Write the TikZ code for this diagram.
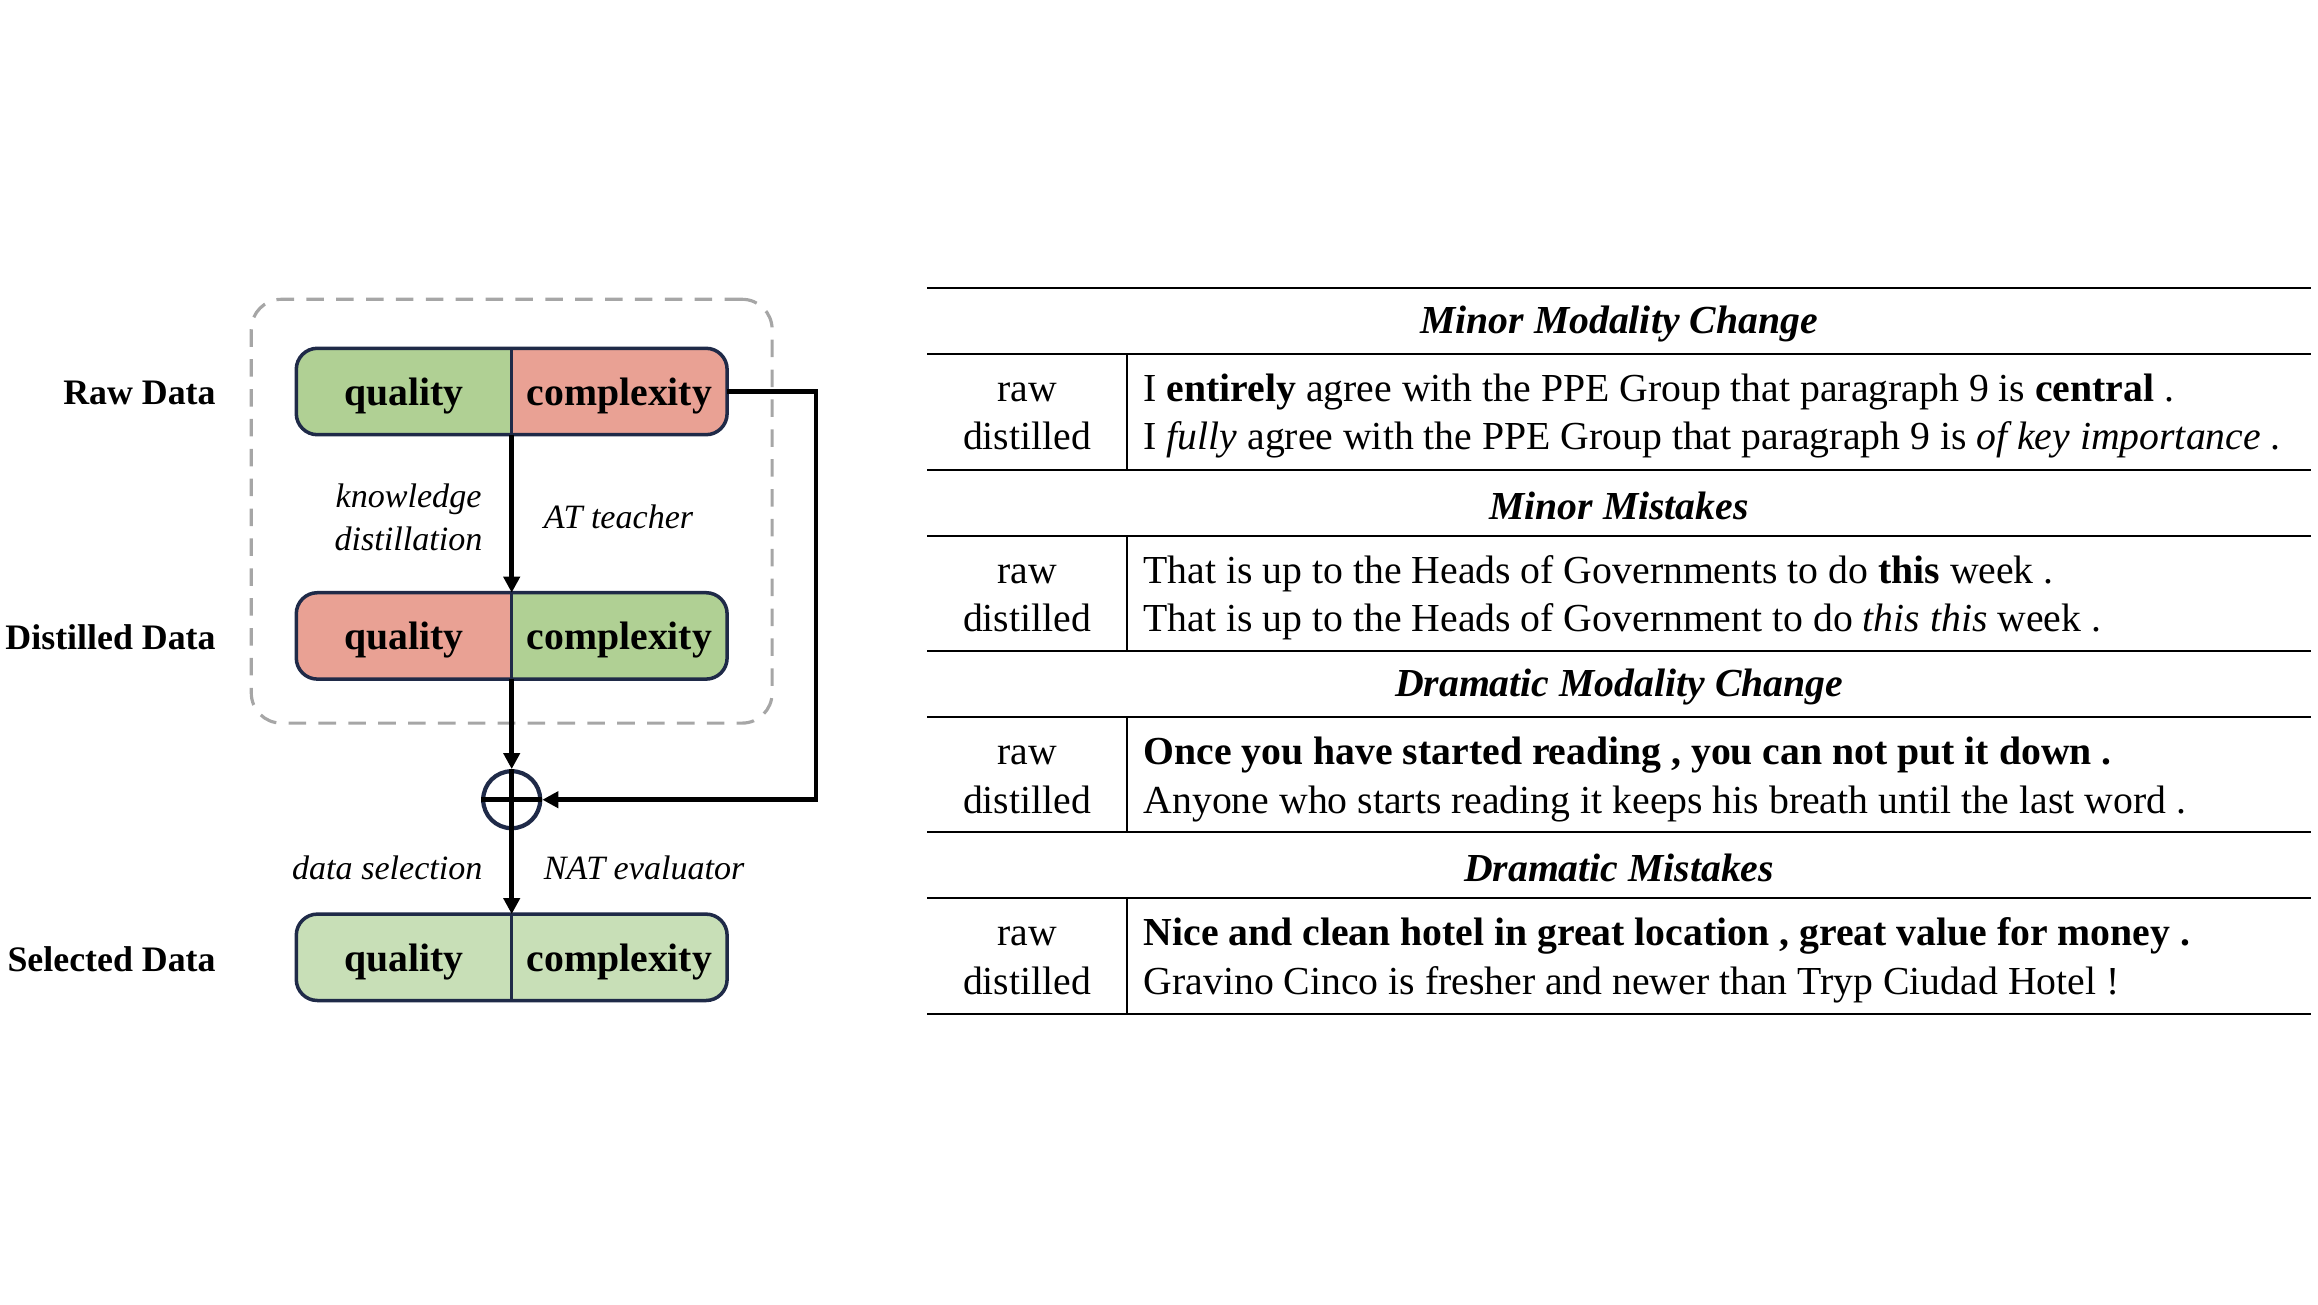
\documentclass[tikz,border=0pt]{standalone}
\usepackage{fontspec}
\setmainfont{Liberation Serif}
\usetikzlibrary{arrows.meta, positioning, fit, backgrounds}
\definecolor{cGood}{RGB}{176,208,148}
\definecolor{cBad}{RGB}{233,161,148}
\definecolor{cPale}{RGB}{200,223,183}
\definecolor{cNavy}{RGB}{31,42,72}
\definecolor{cDash}{RGB}{166,166,166}
\tikzset{
	half/.style    ={rectangle, minimum width=2.14cm, minimum height=0.85cm, inner sep=0pt, text height=0.278cm, text depth=0pt, font=\fontsize{11.3}{13}\selectfont\bfseries},
	rowname/.style ={inner sep=0pt, font=\fontsize{10.2}{12}\selectfont\bfseries},
	lab/.style     ={inner sep=0pt, align=center, font=\fontsize{9.7}{12.2}\selectfont\itshape},
	outline/.style ={draw=cNavy, line width=1pt, rounded corners=6pt},
	divider/.style ={draw=cNavy, line width=0.8pt},
	kdbox/.style   ={draw=cDash, line width=0.9pt, dash pattern=on 5pt off 3.5pt, rounded corners=0.3cm, inner xsep=0.45cm, inner ysep=0.465cm},
	sumj/.style    ={circle, draw=cNavy, line width=1.2pt, minimum size=0.57cm, inner sep=0pt},
	sig/.style     ={-{Triangle[length=1.6mm, width=1.6mm]}, line width=1.3pt},
	% table
	cell/.style    ={inner sep=0pt, font=\fontsize{11.3}{13.6}\selectfont},
	head/.style    ={inner sep=0pt, font=\fontsize{11.3}{13.6}\selectfont\bfseries\itshape},
	hrule/.style   ={line width=0.7pt},
	vrule/.style   ={line width=0.5pt},
}
\begin{document}
\begin{tikzpicture}
	\useasboundingbox (0,0) rectangle (23.18,13.04);
	% data flow on the left
	\node[half] (rq) at (4.04,9.125) {quality};
	\node[half, right=0pt of rq] (rc) {complexity};
	\node[half, below=1.58cm of rq] (dq) {quality};
	\node[half, right=0pt of dq] (dc) {complexity};
	\node[sumj, below=0.9cm of dq.south east] (plus) {};
	\node[half, below=2.35cm of dq] (sq) {quality};
	\node[half, right=0pt of sq] (sc) {complexity};
	\foreach \q/\n in {rq/Raw Data, dq/Distilled Data, sq/Selected Data}
		\node[rowname, left=0.8cm of \q, yshift=-0.015cm] (\q-name) {\n};
	\begin{scope}[on background layer]
		\node[kdbox, fit=(rq)(dc), yshift=0.025cm] (kd) {};
		\foreach \q/\c/\fa/\fb in {rq/rc/cGood/cBad, dq/dc/cBad/cGood, sq/sc/cPale/cPale} {
			\begin{scope}
				\clip[rounded corners=6pt] (\q.north west) rectangle (\c.south east);
				\fill[\fa] (\q.north west) rectangle (\q.south east);
				\fill[\fb] (\c.north west) rectangle (\c.south east);
			\end{scope}
		}
	\end{scope}
	\foreach \q/\c in {rq/rc, dq/dc, sq/sc} {
		\draw[outline] (\q.north west) rectangle (\c.south east);
		\draw[divider] (\q.north east) -- (\q.south east);
	}
	\draw[sig] (rq.south east) -- node[lab, left=0.27cm, yshift=-0.04cm] (kdlab) {knowledge\\distillation} node[lab, right=0.3cm, yshift=-0.03cm] (atlab) {AT teacher} (dq.north east);
	\draw[sig] (dq.south east) -- (plus.north);
	\draw[line width=1.3pt] (plus.north) -- (plus.south) (plus.west) -- (plus.east);
	\draw[sig] (plus.south) -- node[lab, left=0.27cm, yshift=0.045cm] (dslab) {data selection} node[lab, right=0.3cm, yshift=0.045cm] (natlab) {NAT evaluator} (sq.north east);
	\draw[sig] (rc.east) -- ++(0.89,0) |- (plus.east);
	% example table on the right
	\foreach \g/\t/\h in {1/10.16/Minor Modality Change, 2/8.34/Minor Mistakes, 3/6.53/Dramatic Modality Change, 4/4.72/Dramatic Mistakes} {
		\draw[hrule] (9.27,\t) -- (23.11,\t);
		\draw[hrule] (9.27,\t-0.66) -- (23.11,\t-0.66);
		\draw[vrule] (11.27,\t-0.66) -- (11.27,\t-1.82);
		\node[head] (head\g) at (16.19,\t-0.36) {\h};
		\node[cell, anchor=base] (raw\g) at (10.27,\t-1.135) {raw};
		\node[cell, anchor=base] (dis\g) at (10.27,\t-1.62) {distilled};
	}
	\draw[hrule] (9.27,2.90) -- (23.11,2.90);
	\node[cell, anchor=base west] (s1r) at (11.43,9.025) {I \textbf{entirely} agree with the PPE Group that paragraph 9 is \textbf{central} .};
	\node[cell, anchor=base west] (s1d) at (11.43,8.54) {I \textit{fully} agree with the PPE Group that paragraph 9 is \textit{of key importance} .};
	\node[cell, anchor=base west] (s2r) at (11.43,7.205) {That is up to the Heads of Governments to do \textbf{this} week .};
	\node[cell, anchor=base west] (s2d) at (11.43,6.72) {That is up to the Heads of Government to do \textit{this this} week .};
	\node[cell, anchor=base west] (s3r) at (11.43,5.395) {\textbf{Once you have started reading , you can not put it down .}};
	\node[cell, anchor=base west] (s3d) at (11.43,4.91) {Anyone who starts reading it keeps his breath until the last word .};
	\node[cell, anchor=base west] (s4r) at (11.43,3.585) {\textbf{Nice and clean hotel in great location , great value for money .}};
	\node[cell, anchor=base west] (s4d) at (11.43,3.10) {Gravino Cinco is fresher and newer than Tryp Ciudad Hotel !};
\end{tikzpicture}
\end{document}
